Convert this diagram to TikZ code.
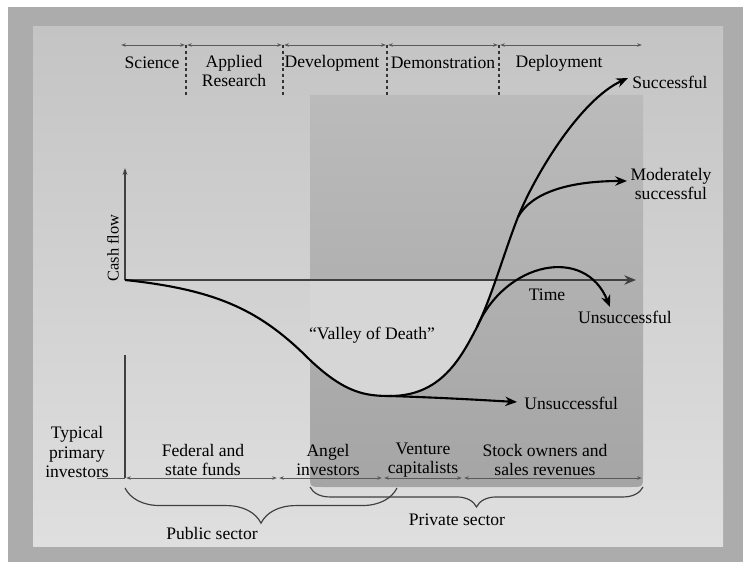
\documentclass[tikz,border=0pt]{standalone}
\usepackage{fontspec}
\setmainfont{Liberation Serif}
\usetikzlibrary{arrows.meta,decorations.pathreplacing}

\definecolor{outergray}{HTML}{ACACAC}
\definecolor{paneltop}{HTML}{C4C4C4}
\definecolor{panelbot}{HTML}{DFDFDF}
\definecolor{darktop}{HTML}{BBBBBB}
\definecolor{darkbot}{HTML}{A5A5A5}
\definecolor{valleygray}{HTML}{D6D6D6}
\definecolor{spangray}{HTML}{5A5A5A}

\begin{document}
\begin{tikzpicture}[x=0.03cm,y=-0.03cm,
    lbl/.style={font=\fontsize{15}{16.5}\selectfont,align=center,inner sep=1pt},
    span/.style={draw=spangray,line width=0.8pt,shorten <=1pt,shorten >=1pt,
      {Stealth[length=4pt,width=3pt]}-{Stealth[length=4pt,width=3pt]}},
    sep/.style={draw=black!80,line width=1.6pt,dash pattern=on 2.5pt off 2.5pt},
    axis/.style={draw=black!75,line width=1.5pt},
    curve/.style={draw=black,line width=1.8pt},
    tip/.style={-{Stealth[length=10pt,width=8pt]}},
    bracket/.style={draw=black!75,line width=1pt,decorate}]
    \useasboundingbox (0,0) rectangle (743,562);

    % background
    \fill[white] (0,0) rectangle (743,562);
    \fill[outergray] (8,7) rectangle (743,562);
    \shade[top color=paneltop,bottom color=panelbot] (33,27) rectangle (723,546);
    \shade[top color=darktop,bottom color=darkbot] (310,95) -- (310,475)
      .. controls (310,487) .. (322,487) -- (631,487)
      .. controls (643,487) .. (643,475) -- (643,95) -- cycle;

    % curve points
    \coordinate (origin) at (125,280);
    \coordinate (ytop) at (125,168);
    \coordinate (xend) at (636,280);
    \coordinate (bend) at (310,360);
    \coordinate (bottom) at (390,396);
    \coordinate (fork1) at (477,327);
    \coordinate (fork2) at (518,217);
    \coordinate (succ) at (628,78);
    \coordinate (mod) at (627,181);
    \coordinate (unsucc1) at (610,307);
    \coordinate (unsucc2) at (517,402);

    % valley
    \begin{scope}
      \clip (310,280) rectangle (643,500);
      \fill[valleygray] (origin) .. controls (220,290) and (262,312) .. (bend)
        .. controls (345,393) and (365,396) .. (bottom)
        .. controls (440,396) and (460,360) .. (fork1)
        .. controls (492,296) and (505,250) .. (fork2) -- (125,217) -- cycle;
    \end{scope}

    % stages
    \coordinate (t0) at (120,45);
    \coordinate (t1) at (186,45);
    \coordinate (t2) at (283,45);
    \coordinate (t3) at (387,45);
    \coordinate (t4) at (499,45);
    \coordinate (t5) at (643,45);
    \coordinate (d1) at (186,97);
    \coordinate (d2) at (283,97);
    \coordinate (d3) at (387,97);
    \coordinate (d4) at (499,97);
    \draw[span] (t0) -- (t1);
    \draw[span] (t1) -- (t2);
    \draw[span] (t2) -- (t3);
    \draw[span] (t3) -- (t4);
    \draw[span] (t4) -- (t5);
    \draw[sep] (t1) -- (d1);
    \draw[sep] (t2) -- (d2);
    \draw[sep] (t3) -- (d3);
    \draw[sep] (t4) -- (d4);
    \node[lbl] (science) at (152,63) {Science};
    \node[lbl] (applied) at (234,71) {Applied\\Research};
    \node[lbl] (develop) at (332,63) {Development};
    \node[lbl] (demo) at (443,63) {Demonstration};
    \node[lbl] (deploy) at (559,63) {Deployment};

    % axes
    \draw[axis,-{Stealth[length=6pt,width=4pt]}] (origin) -- (ytop);
    \draw[axis,tip] (origin) -- (xend);
    \node[lbl,rotate=90,font=\fontsize{14}{16}\selectfont] (cashflow) at (113,248) {Cash flow};
    \node[lbl] (timelbl) at (547,295) {Time};

    % cash flow curves
    \draw[curve] (origin) .. controls (220,290) and (262,312) .. (bend)
      .. controls (345,393) and (365,396) .. (bottom)
      .. controls (440,396) and (460,360) .. (fork1)
      .. controls (492,296) and (505,250) .. (fork2);
    \draw[curve,tip] (fork2) .. controls (535,175) and (580,100) .. (succ);
    \draw[curve,tip] (fork2) .. controls (532,192) and (570,181) .. (mod);
    \draw[curve,tip] (fork1) .. controls (505,262) and (585,245) .. (unsucc1);
    \draw[curve,tip] (bottom) .. controls (450,398) and (480,400) .. (unsucc2);
    \node[lbl,anchor=west] (succlbl) at (631,82) {Successful};
    \node[lbl] (modlbl) at (671,184) {Moderately\\successful};
    \node[lbl] (unsucclbl) at (625,317) {Unsuccessful};
    \node[lbl,anchor=west] (unsucclbl2) at (523,403) {Unsuccessful};
    \node[lbl] (valley) at (372,335) {``Valley of Death''};

    % investors
    \coordinate (lead) at (97,478);
    \coordinate (vtop) at (125,355);
    \coordinate (b0) at (125,478);
    \coordinate (b1) at (278,478);
    \coordinate (b2) at (383,478);
    \coordinate (b3) at (463,478);
    \coordinate (b4) at (643,478);
    \draw[axis,line width=1.1pt] (vtop) -- (b0);
    \draw[draw=spangray,line width=0.8pt] (lead) -- (b0);
    \draw[span] (b0) -- (b1);
    \draw[span] (b1) -- (b2);
    \draw[span] (b2) -- (b3);
    \draw[span] (b3) -- (b4);
    \node[lbl] (typical) at (77,452) {Typical\\primary\\investors};
    \node[lbl] (federal) at (203,460) {Federal and\\state funds};
    \node[lbl] (angel) at (328,460) {Angel\\investors};
    \node[lbl] (venture) at (423,460) {Venture\\capitalists};
    \node[lbl] (stock) at (545,460) {Stock owners and\\sales revenues};

    % sectors
    \coordinate (pubL) at (125,488);
    \coordinate (pubR) at (397,488);
    \coordinate (privL) at (310,487);
    \coordinate (privR) at (643,487);
    \draw[bracket,decoration={brace,mirror,amplitude=30pt}] (pubL) -- (pubR);
    \draw[bracket,decoration={brace,mirror,amplitude=17pt}] (privL) -- (privR);
    \node[lbl] (public) at (212,533) {Public sector};
    \node[lbl] (private) at (457,520) {Private sector};
  \end{tikzpicture}
\end{document}
